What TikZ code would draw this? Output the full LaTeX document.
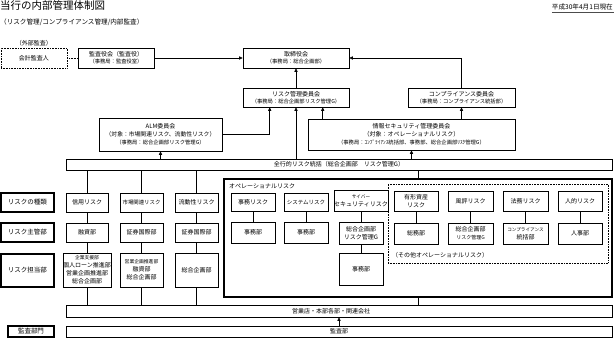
\documentclass[tikz,border=0pt]{standalone}
\usepackage{fontspec}
\setmainfont{Noto Sans CJK JP}
\usetikzlibrary{arrows.meta,calc}
\newcommand\fsz[2]{\fontsize{#1pt}{#2pt}\selectfont}
\begin{document}
\begin{tikzpicture}[x=1pt,y=-1pt,
 bx/.style={draw, line width=0.6pt, inner sep=0pt, align=center, font=\fsz{6}{8}},
 thk/.style={bx, line width=1.3pt, font=\fsz{6.5}{8}},
 txt/.style={inner sep=0pt, font=\fsz{6}{8}},
 ln/.style={line width=0.6pt},
 arr/.style={ln, -{Triangle[length=3.5pt,width=3.2pt]}},
]
\useasboundingbox (0,0) rectangle (614,338);

% titles
\node[anchor=north west, inner sep=0pt, font=\fsz{10.5}{12}] (title) at (0,0.5) {当行の内部管理体制図};
\node[anchor=west, txt, font=\fsz{6.6}{8}] (sub) at (0,22) {（リスク管理/コンプライアンス管理/内部監査）};
\node[anchor=east, inner sep=0pt, font=\fsz{6.6}{8}] (date) at (613,7) {平成30年4月1日現在};
\draw[gray!60!black, line width=1.2pt] ([yshift=-2.5pt]date.south west) -- ([yshift=-2.5pt,xshift=1pt]date.south east);

% top part
\node[txt] (gaibu) at (34,43) {（外部監査）};
\node[bx, densely dotted, minimum width=66pt, minimum height=20pt] (kaikei) at (34,58) {会計監査人};
\node[bx, minimum width=76pt, minimum height=20pt] (kansa) at (116,58) {監査役会（監査役）\\[-1pt]{\fsz{5.3}{7}（事務局：監査役室）}};
\node[bx, minimum width=106pt, minimum height=20pt] (tori) at (296,58) {取締役会\\[-1pt]{\fsz{5.3}{7}（事務局：総合企画部）}};
\node[bx, minimum width=106pt, minimum height=19pt] (riskc) at (296,97.5) {リスク管理委員会\\[-1pt]{\fsz{5.3}{7}（事務局：総合企画部リスク管理G）}};
\node[bx, minimum width=107pt, minimum height=19pt] (compc) at (461.5,97.5) {コンプライアンス委員会\\[-1pt]{\fsz{5.3}{7}（事務局：コンプライアンス統括部）}};
\node[bx, minimum width=207pt, minimum height=31pt] (isec) at (411.5,134.5) {情報セキュリティ管理委員会\\（対象：オペレーショナルリスク）\\{\fsz{5.3}{7}（事務局：ｺﾝﾌﾟﾗｲｱﾝｽ統括部、事務部、総合企画部ﾘｽｸ管理G）}};
\node[bx, minimum width=123pt, minimum height=33pt] (alm) at (160.5,134.5) {ALM委員会\\{\fsz{5.8}{8}（対象：市場関連リスク、流動性リスク）}\\{\fsz{5.3}{7}（事務局：総合企画部リスク管理G）}};
\node[bx, minimum width=546pt, minimum height=11pt] (bar1) at (339,164.5) {全行的リスク統括（総合企画部　リスク管理G）};

% row labels
\node[thk, minimum width=53pt, minimum height=19pt] (rl1) at (27.5,202.5) {リスクの種類};
\node[thk, minimum width=53pt, minimum height=19pt] (rl2) at (27.5,232.5) {リスク主管部};
\node[thk, minimum width=53pt, minimum height=33pt] (rl3) at (27.5,270.5) {リスク担当部};
\node[thk, line width=1.1pt, minimum width=46pt, minimum height=11pt] (rl4) at (31,331.5) {監査部門};

% columns
\node[bx, minimum width=42pt, minimum height=19pt] (c1t) at (87,202.5) {信用リスク};
\node[bx, minimum width=42pt, minimum height=19pt] (c1m) at (87,232.5) {融資部};
\node[bx, minimum width=42pt, minimum height=34pt] (c1a) at (87,270) {\fsz{4.8}{7.2}企業支援部\\個人ローン推進部\\営業企画推進部\\総合企画部};
\node[bx, minimum width=43pt, minimum height=19pt] (c2t) at (141.5,202.5) {\fsz{5.4}{7}市場関連リスク};
\node[bx, minimum width=43pt, minimum height=19pt] (c2m) at (141.5,232.5) {証券国際部};
\node[bx, minimum width=43pt, minimum height=34pt] (c2a) at (141.5,270) {{\fsz{4.8}{6}営業企画推進部}\\融資部\\総合企画部};
\node[bx, minimum width=43pt, minimum height=19pt] (c3t) at (196.5,202.5) {流動性リスク};
\node[bx, minimum width=43pt, minimum height=19pt] (c3m) at (196.5,232.5) {証券国際部};
\node[bx, minimum width=43pt, minimum height=34pt] (c3a) at (196.5,270) {総合企画部};

% operational risk
\node[thk, minimum width=388pt, minimum height=118pt] (op) at (418,238) {};
\node[txt, anchor=west] (oplab) at (229,186) {オペレーショナルリスク};
\node[bx, minimum width=44pt, minimum height=18pt] (ojr) at (253,202) {事務リスク};
\node[bx, minimum width=44pt, minimum height=21pt] (ojb) at (253,232.5) {事務部};
\node[bx, minimum width=44pt, minimum height=18pt] (osr) at (306,202) {\fsz{5.5}{7}システムリスク};
\node[bx, minimum width=44pt, minimum height=21pt] (osb) at (306,232.5) {事務部};
\node[bx, minimum width=44pt, minimum height=21pt] (ocr) at (361,200.5) {\fsz{4.6}{7}サイバー\\セキュリティリスク};
\node[bx, minimum width=44pt, minimum height=22pt] (ocm) at (361,233) {総合企画部\\リスク管理G};
\node[bx, minimum width=44pt, minimum height=32pt] (ocb) at (361,269) {事務部};

\node[bx, densely dotted, minimum width=220pt, minimum height=79pt] (dot) at (498,223.5) {};
\node[txt, anchor=west] (dotlab) at (392,255) {（その他オペレーショナルリスク）};
\node[bx, minimum width=44pt, minimum height=20pt] (oyr) at (416,201) {有形資産\\リスク};
\node[bx, minimum width=44pt, minimum height=21pt] (oyb) at (416,233.5) {総務部};
\node[bx, minimum width=45pt, minimum height=20pt] (ofr) at (470.5,201) {風評リスク};
\node[bx, minimum width=45pt, minimum height=21pt] (ofb) at (470.5,233.5) {総合企画部\\{\fsz{5}{6}リスク管理G}};
\node[bx, minimum width=45pt, minimum height=20pt] (ohr) at (525.5,201) {法務リスク};
\node[bx, minimum width=45pt, minimum height=21pt] (ohb) at (525.5,233.5) {{\fsz{4.6}{6}コンプライアンス}\\統括部};
\node[bx, minimum width=44pt, minimum height=20pt] (onr) at (580,201) {人的リスク};
\node[bx, minimum width=44pt, minimum height=21pt] (onb) at (580,233.5) {人事部};

% bottom bars
\node[bx, minimum width=546pt, minimum height=12pt] (bar2) at (339,311) {\hspace*{-16pt}営業店・本部各部・関連会社};
\node[bx, minimum width=546pt, minimum height=11pt] (bar3) at (339,331.5) {監査部};

% connectors top
\draw[ln, densely dotted] (kaikei.east) -- (kansa.west);
\draw[arr] (kansa.east) -- (tori.west);
\draw[arr] (riskc.north) -- (tori.south);
\draw[arr] (compc.north) |- (tori.east);
\draw[arr] (isec.north -| compc.south) -- (compc.south);
\draw[arr] ($(isec.north west)+(15,0)$) coordinate (iq) -- (iq |- riskc.south);
\draw[arr] (alm.east) -| ($(riskc.south west)+(27,0)$);
\draw[arr] (bar1.north -| riskc.south) -- (riskc.south);
\draw[arr] (bar1.north -| alm.south) -- (alm.south);
\draw[arr] (bar1.north -| isec.south) -- (isec.south);

% columns connectors
\foreach \c in {c1,c2,c3}{
  \draw[ln] (bar1.south -| \c t.north) -- (\c t.north);
  \draw[ln] (\c t.south) -- (\c m.north);
  \draw[ln] (\c m.south) -- (\c a.north);
  \draw[ln] (\c a.south) -- (\c a.south |- bar2.north);
}
\draw[ln] (bar1.south -| op.north) -- (op.north);
\draw[ln] (op.south) -- (op.south |- bar2.north);
\draw[ln] (ojr) -- (ojb);
\draw[ln] (osr) -- (osb);
\draw[ln] (ocr) -- (ocm);
\draw[ln] (ocm) -- (ocb);
\draw[ln] (oyr) -- (oyb);
\draw[ln] (ofr) -- (ofb);
\draw[ln] (ohr) -- (ohb);
\draw[ln] (onr) -- (onb);
\draw[arr] (bar3.north) -- (bar2.south);
\end{tikzpicture}
\end{document}
